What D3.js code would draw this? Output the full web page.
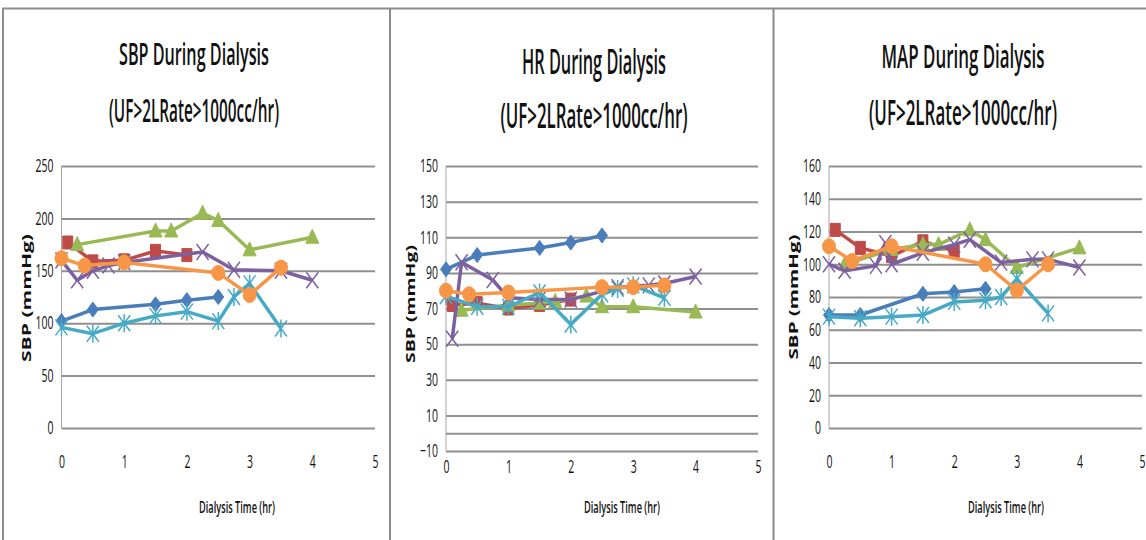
<!DOCTYPE html>
<html>
<head>
<meta charset="utf-8">
<script src="https://cdn.jsdelivr.net/npm/d3@7"></script>
<style>
  body { margin: 0; background: #fff; }
  svg { display: block; }
  text { font-family: "Open Sans", "Liberation Sans", sans-serif; fill: #111; }
</style>
</head>
<body>
<div id="chart"></div>
<script>
// Data
const timeTicks = [0, 1, 2, 3, 4, 5];
const sbpTicks = [0, 50, 100, 150, 200, 250];
const hrTicks = [-10, 10, 30, 50, 70, 90, 110, 130, 150];
const mapTicks = [0, 20, 40, 60, 80, 100, 120, 140, 160];

const panelTitles = ['SBP During Dialysis', 'HR During Dialysis', 'MAP During Dialysis'];
const subTitle = '(UF>2LRate>1000cc/hr)';
const yAxisTitle = 'SBP (mmHg)';
const xAxisTitle = 'Dialysis Time (hr)';

// [hours, value]
const sbpBlue = [[0, 102], [0.5, 113], [1.5, 118], [2, 122], [2.5, 125]];
const sbpRed = [[0.1, 177], [0.5, 159], [1, 160], [1.5, 169], [2, 165]];
const sbpGreen = [[0.25, 175], [1.5, 188], [1.75, 188], [2.25, 205], [2.5, 198], [3, 170], [4, 182]];
const sbpPurple = [[0, 160], [0.25, 141], [0.5, 150], [0.75, 155], [1, 158], [2.25, 168], [2.75, 151], [3.5, 150], [4, 141]];
const sbpTeal = [[0, 96], [0.5, 90], [1, 100], [1.5, 107], [2, 111], [2.5, 102], [2.75, 125], [3, 138], [3.5, 95]];
const sbpOrange = [[0, 162], [0.37, 155], [1, 158], [2.5, 148], [3, 127], [3.5, 153]];

const hrBlue = [[0, 92], [0.5, 100], [1.5, 104], [2, 107], [2.5, 111]];
const hrRed = [[0.1, 72], [0.5, 73], [1, 70], [1.5, 72], [2, 75]];
const hrGreen = [[0.25, 69], [1, 72], [1.5, 73], [1.75, 74], [2.25, 77], [2.5, 71], [3, 71], [4, 68]];
const hrPurple = [[0.1, 53], [0.25, 96], [0.75, 86], [1, 76], [1.5, 75], [2, 75], [2.75, 82], [3.25, 83], [3.5, 84], [4, 88]];
const hrTeal = [[0, 77], [0.5, 71], [1, 71], [1.5, 79], [2, 61], [2.5, 78], [2.75, 81], [3, 83], [3.5, 76]];
const hrOrange = [[0, 80], [0.37, 78], [1, 79], [2.5, 82], [3, 82], [3.5, 83]];

const mapBlue = [[0, 69], [0.5, 69], [1.5, 82], [2, 83], [2.5, 85]];
const mapRed = [[0.1, 121], [0.5, 110], [1, 105], [1.5, 114], [2, 108]];
const mapGreen = [[0.25, 100], [1, 109], [1.5, 112], [1.75, 112], [2.25, 121], [2.5, 115], [3, 98], [4, 110]];
const mapPurple = [[0, 100], [0.25, 96], [0.75, 99], [0.9, 113], [1, 100], [1.5, 107], [2, 112], [2.25, 115], [2.75, 101], [3.25, 103], [3.5, 103], [4, 98]];
const mapTeal = [[0, 68], [0.5, 67], [1, 68], [1.5, 69], [2, 77], [2.5, 78], [2.75, 80], [3, 91], [3.5, 70]];
const mapOrange = [[0, 111], [0.37, 102], [1, 111], [2.5, 100], [3, 84], [3.5, 100]];

// Series styles (Excel 2007 palette)
const seriesStyle = [
  { color: '#4a7ebb', marker: 'diamond' },
  { color: '#be4b48', marker: 'square' },
  { color: '#98b954', marker: 'triangle' },
  { color: '#7d60a0', marker: 'x' },
  { color: '#46aac5', marker: 'star' },
  { color: '#f79646', marker: 'circle' }
];

// Panel layout
const panels = [
  {
    title: panelTitles[0], ticks: sbpTicks, domain: [0, 250],
    series: [sbpBlue, sbpRed, sbpGreen, sbpPurple, sbpTeal, sbpOrange],
    x0: 61.5, x1: 375, yTop: 166, yBot: 428, xLabelY: 469,
    titleX: 194, titleY: 65, titleSize: 30, titleLen: 150,
    subY: 122, subSize: 32, subLen: 170,
    yTitleX: 31, yTitleY: 298, yTitleLen: 128,
    xTitleX: 237
  },
  {
    title: panelTitles[1], ticks: hrTicks, domain: [-10, 150],
    series: [hrBlue, hrRed, hrGreen, hrPurple, hrTeal, hrOrange],
    x0: 446, x1: 758, yTop: 166, yBot: 451, xLabelY: 474,
    titleX: 594, titleY: 74, titleSize: 34, titleLen: 144,
    subY: 128, subSize: 34, subLen: 187,
    yTitleX: 415, yTitleY: 304, yTitleLen: 118,
    xTitleX: 622
  },
  {
    title: panelTitles[2], ticks: mapTicks, domain: [0, 160],
    series: [mapBlue, mapRed, mapGreen, mapPurple, mapTeal, mapOrange],
    x0: 829, x1: 1142, yTop: 166, yBot: 428, xLabelY: 469,
    titleX: 963, titleY: 68, titleSize: 32, titleLen: 163,
    subY: 125, subSize: 34, subLen: 188,
    yTitleX: 798, yTitleY: 297, yTitleLen: 125,
    xTitleX: 1006
  }
];

const width = 1146;
const height = 540;

const svg = d3.select('#chart')
  .append('svg')
  .attr('width', width)
  .attr('height', height);

// Frame lines
svg.append('path')
  .attr('d', 'M3,540 V8.5 H1146 M390,8 V540 M773.5,8 V540')
  .attr('fill', 'none')
  .attr('stroke', '#8c8c8c')
  .attr('stroke-width', 2);

function markerPath(type) {
  switch (type) {
    case 'diamond': return 'M0,-7.5L5.5,0L0,7.5L-5.5,0Z';
    case 'square': return 'M-5,-6.5H5V6.5H-5Z';
    case 'triangle': return 'M0,-8L6.5,6H-6.5Z';
    case 'x': return 'M-6,-8L6,8M-6,8L6,-8';
    case 'star': return 'M-6,-8L6,8M-6,8L6,-8M0,-9V9';
    default: return 'M-6.5,0A6.5,7.5 0 1,0 6.5,0A6.5,7.5 0 1,0 -6.5,0Z';
  }
}

panels.forEach(p => {
  const g = svg.append('g');

  const x = d3.scaleLinear().domain([0, 5]).range([p.x0, p.x1]);
  const y = d3.scaleLinear().domain(p.domain).range([p.yBot, p.yTop]);

  // Titles
  g.append('text')
    .attr('x', p.titleX).attr('y', p.titleY)
    .attr('text-anchor', 'middle')
    .attr('font-size', p.titleSize)
    .attr('font-weight', 600)
    .attr('textLength', p.titleLen)
    .attr('lengthAdjust', 'spacingAndGlyphs')
    .text(p.title);

  g.append('text')
    .attr('x', p.titleX).attr('y', p.subY)
    .attr('text-anchor', 'middle')
    .attr('font-size', p.subSize)
    .attr('font-weight', 600)
    .attr('textLength', p.subLen)
    .attr('lengthAdjust', 'spacingAndGlyphs')
    .text(subTitle);

  // Gridlines (plus zero line)
  const gridVals = p.ticks.includes(0) ? p.ticks : p.ticks.concat([0]);
  g.append('g')
    .attr('class', 'grid')
    .attr('transform', `translate(${p.x0},0)`)
    .call(d3.axisLeft(y).tickValues(gridVals).tickSize(-(p.x1 - p.x0)).tickFormat(''))
    .call(s => s.select('.domain').remove())
    .call(s => s.selectAll('line').attr('stroke', '#8f8f8f').attr('stroke-width', 2));

  // Vertical axis line
  g.append('line')
    .attr('x1', p.x0).attr('x2', p.x0)
    .attr('y1', p.yTop).attr('y2', p.yBot)
    .attr('stroke', '#a6a6a6')
    .attr('stroke-width', 1);

  // Y tick labels
  g.append('g')
    .attr('transform', `translate(${p.x0 - 8},0)`)
    .call(d3.axisLeft(y).tickValues(p.ticks).tickSize(0).tickPadding(0).tickFormat(d3.format('d')))
    .call(s => s.select('.domain').remove())
    .call(s => s.selectAll('text')
      .attr('font-size', 18)
      .attr('font-family', '"Open Sans", sans-serif')
      .attr('fill', '#111')
      .attr('textLength', d => String(d).length * 6)
      .attr('lengthAdjust', 'spacingAndGlyphs'));

  // X tick labels
  g.append('g')
    .attr('transform', `translate(0,${p.xLabelY - 14})`)
    .call(d3.axisBottom(x).tickValues(timeTicks).tickSize(0).tickPadding(0).tickFormat(d3.format('d')))
    .call(s => s.select('.domain').remove())
    .call(s => s.selectAll('text')
      .attr('font-size', 18)
      .attr('font-family', '"Open Sans", sans-serif')
      .attr('fill', '#111')
      .attr('textLength', 6)
      .attr('lengthAdjust', 'spacingAndGlyphs'));

  // Axis titles
  g.append('text')
    .attr('transform', `translate(${p.yTitleX},${p.yTitleY}) rotate(-90)`)
    .attr('text-anchor', 'middle')
    .attr('font-size', 12)
    .attr('font-weight', 'bold')
    .attr('font-family', '"Liberation Sans", Arial, sans-serif')
    .attr('textLength', p.yTitleLen)
    .attr('lengthAdjust', 'spacingAndGlyphs')
    .text(yAxisTitle);

  g.append('text')
    .attr('x', p.xTitleX).attr('y', 513)
    .attr('text-anchor', 'middle')
    .attr('font-size', 16)
    .attr('font-weight', 600)
    .attr('textLength', 76)
    .attr('lengthAdjust', 'spacingAndGlyphs')
    .text(xAxisTitle);

  // Lines and markers
  const line = d3.line().x(d => x(d[0])).y(d => y(d[1]));

  p.series.forEach((data, i) => {
    const st = seriesStyle[i];
    g.append('path')
      .datum(data)
      .attr('d', line)
      .attr('fill', 'none')
      .attr('stroke', st.color)
      .attr('stroke-width', 3.5)
      .attr('stroke-linejoin', 'round');

    const thin = st.marker === 'x' || st.marker === 'star';
    g.selectAll(null)
      .data(data)
      .enter()
      .append('path')
      .attr('transform', d => `translate(${x(d[0])},${y(d[1])})`)
      .attr('d', markerPath(st.marker))
      .attr('fill', thin ? 'none' : st.color)
      .attr('stroke', st.color)
      .attr('stroke-width', thin ? 1.5 : 1);
  });
});
</script>
</body>
</html>
